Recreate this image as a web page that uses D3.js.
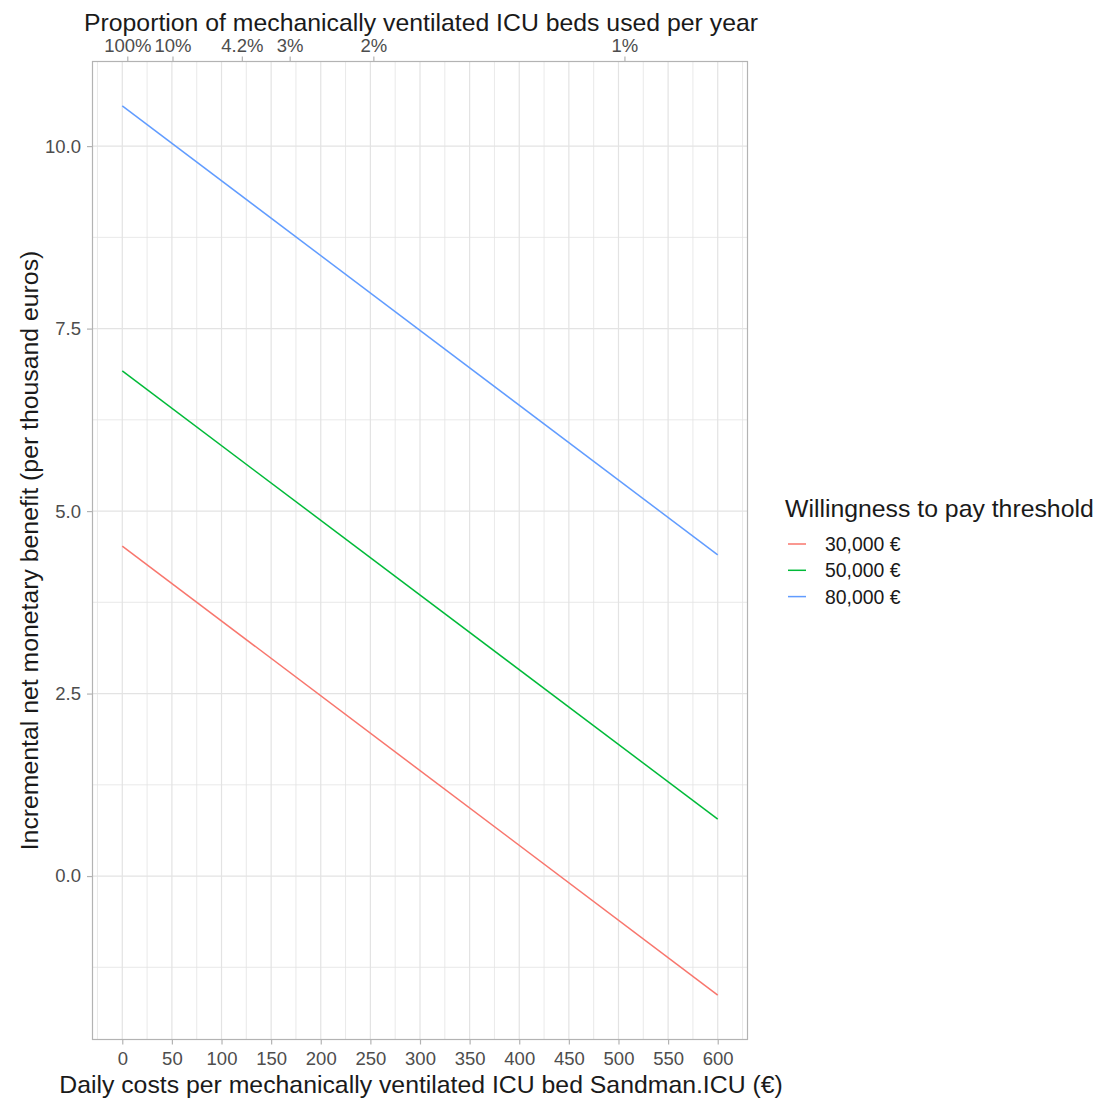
<!DOCTYPE html>
<html>
<head>
<meta charset="utf-8">
<script src="https://cdn.jsdelivr.net/npm/d3@7"></script>
<style>
  html, body { margin: 0; padding: 0; background: #ffffff; }
  svg { display: block; font-family: "Liberation Sans", Arial, sans-serif; }
</style>
</head>
<body>
<svg id="chart" width="1098" height="1101"></svg>
<script>
// Daily cost of a ventilated ICU bed (€) at which each line is evaluated
const dailyCost = [0, 600];

// Incremental net monetary benefit (thousand €) per willingness-to-pay threshold
const seriesNames = ["30,000 €", "50,000 €", "80,000 €"];
const inmb30k = [4.52, -1.63];
const inmb50k = [6.92, 0.78];
const inmb80k = [10.55, 4.40];

// Bottom axis ticks (€)
const costTicks = [0, 50, 100, 150, 200, 250, 300, 350, 400, 450, 500, 550, 600];
// Left axis ticks
const benefitTicks = [0, 2.5, 5, 7.5, 10];

// Secondary (top) axis: proportion of ventilated ICU beds used per year
const proportionTicks = [1, 0.10, 0.042, 0.03, 0.02, 0.01];
const proportionLabels = ["100%", "10%", "4.2%", "3%", "2%", "1%"];
// Break-even cost factor relating proportion of beds used to daily cost (€)
const costAtFullUse = 5.06;

const palette = ["#F8766D", "#00BA38", "#619CFF"];

const series = seriesNames.map((name, i) => ({
  name,
  color: palette[i],
  values: dailyCost.map((c, j) => ({ cost: c, inmb: [inmb30k, inmb50k, inmb80k][i][j] }))
}));

const svg = d3.select("#chart");
const panel = { left: 92.5, right: 747.5, top: 61.5, bottom: 1039.5 };

const titleSize = "24.8px";
const tickSize = "18.5px";

// ggplot-style 5% expansion of the data range
const xMin = d3.min(dailyCost), xMax = d3.max(dailyCost);
const allY = [].concat(inmb30k, inmb50k, inmb80k);
const yMin = d3.min(allY), yMax = d3.max(allY);
const xPad = (xMax - xMin) * 0.05, yPad = (yMax - yMin) * 0.05;

const x = d3.scaleLinear().domain([xMin - xPad, xMax + xPad]).range([panel.left, panel.right]);
const y = d3.scaleLinear().domain([yMin - yPad, yMax + yPad]).range([panel.bottom, panel.top]);

const gridColor = "#e3e3e3";
const frameColor = "#b3b3b3";
const tickText = "#4d4d4d";

// Minor grid lines sit midway between major breaks
const xMinor = d3.range(costTicks[0] - 25, costTicks[costTicks.length - 1] + 50, 50)
  .filter(v => v >= x.domain()[0] && v <= x.domain()[1]);
const yMinor = d3.range(-1.25, 12, 2.5).filter(v => v >= y.domain()[0] && v <= y.domain()[1]);

const grid = svg.append("g");
grid.selectAll(".xminor").data(xMinor).join("line")
  .attr("x1", d => x(d)).attr("x2", d => x(d))
  .attr("y1", panel.top).attr("y2", panel.bottom)
  .attr("stroke", gridColor).attr("stroke-width", 0.8);
grid.selectAll(".yminor").data(yMinor).join("line")
  .attr("y1", d => y(d)).attr("y2", d => y(d))
  .attr("x1", panel.left).attr("x2", panel.right)
  .attr("stroke", gridColor).attr("stroke-width", 0.8);
grid.selectAll(".xmajor").data(costTicks).join("line")
  .attr("x1", d => x(d)).attr("x2", d => x(d))
  .attr("y1", panel.top).attr("y2", panel.bottom)
  .attr("stroke", gridColor).attr("stroke-width", 1.2);
grid.selectAll(".ymajor").data(benefitTicks).join("line")
  .attr("y1", d => y(d)).attr("y2", d => y(d))
  .attr("x1", panel.left).attr("x2", panel.right)
  .attr("stroke", gridColor).attr("stroke-width", 1.2);

// Lines
const line = d3.line().x(d => x(d.cost)).y(d => y(d.inmb));
svg.append("g").selectAll("path").data(series).join("path")
  .attr("d", d => line(d.values))
  .attr("fill", "none")
  .attr("stroke", d => d.color)
  .attr("stroke-width", 1.5);

// Panel frame
svg.append("rect")
  .attr("x", panel.left).attr("y", panel.top)
  .attr("width", panel.right - panel.left).attr("height", panel.bottom - panel.top)
  .attr("fill", "none").attr("stroke", frameColor).attr("stroke-width", 1.2);

function styleAxis(g) {
  g.select(".domain").remove();
  g.selectAll(".tick line").attr("stroke", frameColor).attr("stroke-width", 1.2);
  g.selectAll(".tick text").attr("fill", tickText).style("font-size", tickSize)
    .style("font-family", "'Liberation Sans', Arial, sans-serif");
}

// Bottom axis
svg.append("g").attr("transform", `translate(0,${panel.bottom})`)
  .call(d3.axisBottom(x).tickValues(costTicks).tickFormat(d3.format("d")).tickSizeInner(5).tickPadding(7))
  .call(styleAxis);

// Left axis
svg.append("g").attr("transform", `translate(${panel.left},0)`)
  .call(d3.axisLeft(y).tickValues(benefitTicks).tickFormat(d3.format(".1f")).tickSizeInner(5.5).tickPadding(6))
  .call(styleAxis);

// Top (secondary) axis: proportion mapped onto the cost scale
const proportionToCost = p => costAtFullUse / p;
const labelOf = new Map(proportionTicks.map((p, i) => [proportionToCost(p), proportionLabels[i]]));
svg.append("g").attr("transform", `translate(0,${panel.top})`)
  .call(d3.axisTop(x).tickValues(proportionTicks.map(proportionToCost))
    .tickFormat(v => labelOf.get(v)).tickSizeInner(5).tickPadding(4.5))
  .call(styleAxis);

// Axis titles
svg.append("text")
  .attr("x", (panel.left + panel.right) / 2 + 1).attr("y", 1093)
  .attr("text-anchor", "middle").style("font-size", titleSize).attr("fill", "#1a1a1a")
  .text("Daily costs per mechanically ventilated ICU bed Sandman.ICU (€)");

svg.append("text")
  .attr("x", (panel.left + panel.right) / 2 + 1).attr("y", 31)
  .attr("text-anchor", "middle").style("font-size", titleSize).attr("fill", "#1a1a1a")
  .text("Proportion of mechanically ventilated ICU beds used per year");

svg.append("text")
  .attr("transform", `translate(38,${(panel.top + panel.bottom) / 2}) rotate(-90)`)
  .attr("text-anchor", "middle").style("font-size", titleSize).attr("fill", "#1a1a1a")
  .text("Incremental net monetary benefit (per thousand euros)");

// Legend
const legend = svg.append("g").attr("transform", "translate(785,0)");
legend.append("text").attr("x", 0).attr("y", 517)
  .style("font-size", titleSize).attr("fill", "#1a1a1a")
  .text("Willingness to pay threshold");
const items = legend.selectAll(".item").data(series).join("g")
  .attr("transform", (d, i) => `translate(0,${544 + i * 26.3})`);
items.append("line").attr("x1", 3).attr("x2", 21).attr("y1", 0).attr("y2", 0)
  .attr("stroke", d => d.color).attr("stroke-width", 1.5);
items.append("text").attr("x", 40).attr("y", 7)
  .style("font-size", "19.4px").attr("fill", "#1a1a1a")
  .text(d => d.name);
</script>
</body>
</html>
